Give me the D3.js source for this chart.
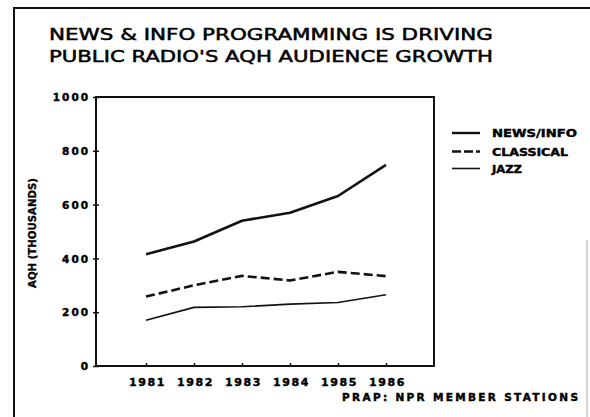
<!DOCTYPE html>
<html><head><meta charset="utf-8">
<script src="https://cdn.jsdelivr.net/npm/d3@7"></script>
<style>body{margin:0;background:#fff}svg{display:block}text{fill:#000}</style>
</head><body><div id="c"></div>
<script>
const years = [1981, 1982, 1983, 1984, 1985, 1986];
const newsInfo = [415, 463, 540, 570, 632, 748];
const classical = [258, 300, 335, 318, 350, 334];
const jazz = [170, 218, 220, 230, 236, 265];
const yTicks = [0, 200, 400, 600, 800, 1000];
const seriesNames = ["NEWS/INFO", "CLASSICAL", "JAZZ"];
const titleLines = ["NEWS & INFO PROGRAMMING IS DRIVING", "PUBLIC RADIO'S AQH AUDIENCE GROWTH"];

const W = 590, H = 417;
const svg = d3.select("#c").append("svg").attr("width", W).attr("height", H);
const font = "'DejaVu Sans', Verdana, sans-serif";

// outer frame
svg.append("line").attr("x1",14).attr("y1",8).attr("x2",590).attr("y2",8).attr("stroke","#111").attr("stroke-width",2);
svg.append("line").attr("x1",14).attr("y1",7).attr("x2",14).attr("y2",417).attr("stroke","#111").attr("stroke-width",2);
svg.append("line").attr("x1",587).attr("y1",240).attr("x2",587).attr("y2",417).attr("stroke","#aaa").attr("stroke-width",1);

// title
titleLines.forEach((t,i)=>{
  svg.append("text").attr("x",49).attr("y",39.5+i*22).attr("font-family",font).attr("font-size",15.5)
    .attr("stroke","#000").attr("stroke-width",0.5)
    .attr("textLength",444).attr("lengthAdjust","spacingAndGlyphs").text(t);
});

const x = d3.scaleLinear().domain([1980, 1987]).range([98, 434]);
const y = d3.scaleLinear().domain([0, 1000]).range([366, 97]);

// plot frame
svg.append("rect").attr("x",96).attr("y",97).attr("width",338).attr("height",269)
  .attr("fill","none").attr("stroke","#111").attr("stroke-width",2);

const heavy = sel => sel.attr("font-family",font).attr("font-weight","bold").attr("fill","#000")
  .attr("stroke","#000").attr("stroke-width",0.45);

// y axis ticks
const yAxis = d3.axisLeft(y).tickValues(yTicks).tickSize(3).tickFormat(d3.format("d"));
const gy = svg.append("g").attr("transform","translate(96,0)").call(yAxis);
gy.select(".domain").remove();
gy.selectAll(".tick line").attr("x2",-3).attr("x1",3).attr("stroke","#111").attr("stroke-width",1.5);
gy.selectAll(".tick text").attr("x",-6).attr("font-size",10.5).attr("letter-spacing","2px").attr("dy","0.35em").call(heavy);

// x axis
const xAxis = d3.axisBottom(x).tickValues(years).tickSize(0).tickFormat(d3.format("d"));
const gx = svg.append("g").attr("transform","translate(0,366)").call(xAxis);
gx.select(".domain").remove();
gx.selectAll(".tick line").attr("y1",-3).attr("y2",0).attr("stroke","#111").attr("stroke-width",1.5);
gx.selectAll(".tick text").attr("y",12).attr("dy","0.71em").attr("dx","1px")
  .attr("font-size",11).attr("letter-spacing","1.6px").call(heavy);

// y label
svg.append("text").attr("transform","translate(36,233) rotate(-90)").attr("text-anchor","middle")
  .attr("font-size",10).call(heavy).attr("stroke-width",0.3)
  .attr("textLength",110).attr("lengthAdjust","spacingAndGlyphs").text("AQH (THOUSANDS)");

// lines
const line = d3.line().x((d,i)=>x(years[i])).y(d=>y(d));
const styles = [
  {w:2.6, dash:null},
  {w:2.6, dash:"9,4"},
  {w:1.6, dash:null}
];
[newsInfo, classical, jazz].forEach((s,k)=>{
  svg.append("path").datum(s).attr("d",line).attr("fill","none").attr("stroke","#111")
    .attr("stroke-width",styles[k].w).attr("stroke-dasharray",styles[k].dash).attr("stroke-linejoin","round");
});

// legend
const legY = [133, 151.5, 168.5];
const legW = [85, 76, 30];
seriesNames.forEach((n,k)=>{
  svg.append("line").attr("x1",452).attr("x2",480).attr("y1",legY[k]).attr("y2",legY[k])
    .attr("stroke","#111").attr("stroke-width",k===2?1.6:2.4).attr("stroke-dasharray",k===1?"9,3":null);
  svg.append("text").attr("x",492).attr("y",legY[k]+4).attr("font-size",11).call(heavy)
    .attr("textLength",legW[k]).attr("lengthAdjust","spacingAndGlyphs").text(n);
});

// source
svg.append("text").attr("x",342).attr("y",401).attr("font-size",10.5).call(heavy)
  .attr("textLength",236).attr("lengthAdjust","spacing").text("PRAP: NPR MEMBER STATIONS");
</script></body></html>
